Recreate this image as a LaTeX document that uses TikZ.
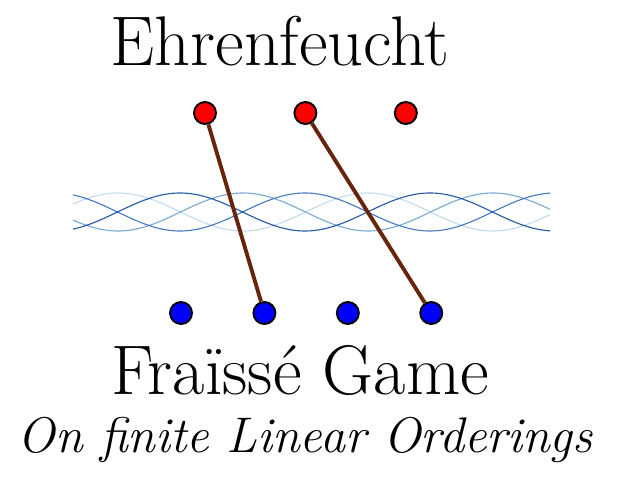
\documentclass[tikz,border=0pt]{standalone}
\usepackage{tikz}
\usetikzlibrary{positioning}
\definecolor{movebrown}{RGB}{104,36,10}
\definecolor{wavedark}{RGB}{40,92,168}
\definecolor{wavemiddark}{RGB}{74,124,192}
\definecolor{wavemid}{RGB}{122,172,212}
\definecolor{wavelight}{RGB}{196,221,238}

\begin{document}
\begin{tikzpicture}[
x=0.02cm, y=-0.02cm,
redpt/.style={circle, draw, line width=1.1pt, fill=red, minimum size=0.44cm, inner sep=0pt},
bluept/.style={circle, draw, line width=1.1pt, fill=blue, minimum size=0.44cm, inner sep=0pt},
move/.style={line width=2.2pt, movebrown},
wave/.style={line width=0.65pt},
title/.style={anchor=base, font=\fontsize{40}{44}\selectfont}
]
\useasboundingbox (0,0) rectangle (630,500);
% the band between the two structures
\foreach \p/\c in {118/wavelight, 243/wavemid, 305/wavemiddark, 180/wavedark}
  \draw[wave, \c] plot[domain=73:550, samples=150, smooth] (\x, {212-19*cos(1.44*(\x-\p))});
\node[title] (top) at (280,66) {Ehrenfeucht};
\node[title] (bottom) at (300,395) {Fraïssé Game};
\node[anchor=base, font=\fontsize{28.5}{32}\selectfont\itshape] (sub) at (305,453) {On f{}inite Linear Orderings};
\node[redpt] (r1) at (205,113) {};
\node[redpt, right=1.53cm of r1] (r2) {};
\node[redpt, right=1.53cm of r2] (r3) {};
\node[bluept] (b1) at (181,313) {};
\node[bluept, right=1.19cm of b1] (b2) {};
\node[bluept, right=1.19cm of b2] (b3) {};
\node[bluept, right=1.19cm of b3] (b4) {};
\draw[move] (r1) -- (b2);
\draw[move] (r2) -- (b4);
\end{tikzpicture}
\end{document}
